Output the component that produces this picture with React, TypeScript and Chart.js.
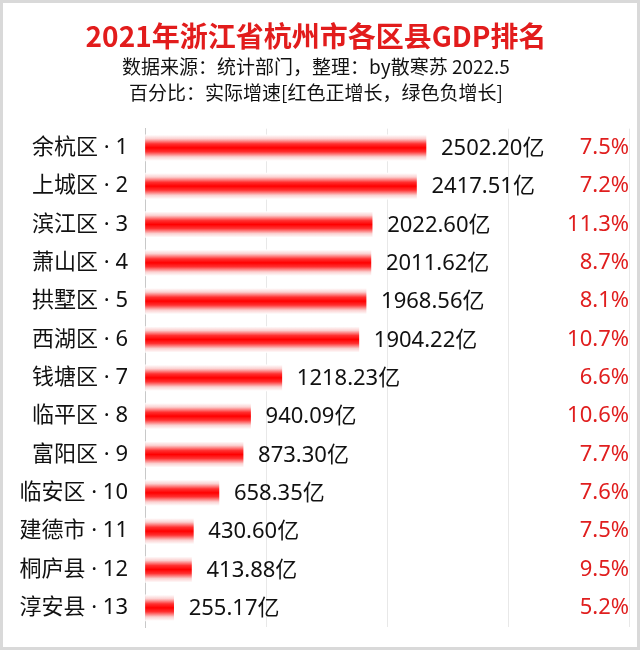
import React, { useEffect, useRef } from "react";
import { Chart, registerables } from "chart.js";

Chart.register(...registerables);

const districts = ["余杭区", "上城区", "滨江区", "萧山区", "拱墅区", "西湖区", "钱塘区", "临平区", "富阳区", "临安区", "建德市", "桐庐县", "淳安县"];
const gdp = [2502.2, 2417.51, 2022.6, 2011.62, 1968.56, 1904.22, 1218.23, 940.09, 873.3, 658.35, 430.6, 413.88, 255.17];
const growth = [7.5, 7.2, 11.3, 8.7, 8.1, 10.7, 6.6, 10.6, 7.7, 7.6, 7.5, 9.5, 5.2];

const titleText = "2021年浙江省杭州市各区县GDP排名";
const subtitleLines = ["数据来源：统计部门，整理：by散寒苏 2022.5", "百分比：实际增速[红色正增长，绿色负增长]"];

const FONT = '"Noto Sans CJK SC", "Microsoft YaHei", sans-serif';
const MIXED = '"Noto Sans", "Noto Sans CJK SC", sans-serif';

const yLabels = districts.map((d, i) => `${d} · ${i + 1}`);
const pctLabels = growth.map((g) => `${g.toFixed(1)}%`);

const valueLabelPlugin = {
  id: "valueLabels",
  afterDatasetsDraw(chart: any) {
    const ctx = chart.ctx;
    const meta = chart.getDatasetMeta(0);
    ctx.save();
    ctx.font = `22px ${MIXED}`;
    ctx.fillStyle = "#111";
    ctx.textAlign = "left";
    ctx.textBaseline = "middle";
    meta.data.forEach((bar: any, i: number) => {
      ctx.fillText(`${gdp[i].toFixed(2)}亿`, bar.x + 15, bar.y + 1);
    });
    ctx.restore();
  },
};

export default function App() {
  const ref = useRef<HTMLCanvasElement | null>(null);
  useEffect(() => {
    if (!ref.current) return;
    Chart.defaults.font.family = FONT;
    const chart = new Chart(ref.current, {
      type: "bar",
      data: {
        labels: yLabels,
        datasets: [
          {
            data: gdp,
            barThickness: 26,
            backgroundColor: (c: any) => {
              const ch = c.chart;
              const ys = ch.scales && ch.scales.y;
              if (!ys || c.dataIndex == null) return "#ff0000";
              const yc = ys.getPixelForValue(c.dataIndex);
              if (!Number.isFinite(yc)) return "#ff0000";
              const g = ch.ctx.createLinearGradient(0, yc - 13, 0, yc + 13);
              g.addColorStop(0, "rgba(255,255,255,1)");
              g.addColorStop(0.15, "#fbd0d0");
              g.addColorStop(0.35, "#ff3030");
              g.addColorStop(0.5, "#ff0000");
              g.addColorStop(0.65, "#ff3030");
              g.addColorStop(0.85, "#fbd0d0");
              g.addColorStop(1, "rgba(255,255,255,1)");
              return g;
            },
          },
        ],
      },
      options: {
        indexAxis: "y",
        animation: false,
        responsive: false,
        layout: { padding: { left: 0, right: 8, bottom: 20, top: 0 } },
        plugins: {
          legend: { display: false },
          tooltip: { enabled: false },
          title: {
            display: true,
            text: titleText,
            color: "#e21c1c",
            font: { size: 28, weight: "bold", family: FONT },
            padding: { top: 17, bottom: 0 },
          },
          subtitle: {
            display: true,
            text: subtitleLines,
            color: "#111",
            font: { size: 19, family: FONT, lineHeight: 1.37 },
            padding: { top: 0, bottom: 23 },
          },
        },
        scales: {
          x: {
            type: "linear",
            min: 0,
            max: 4310,
            position: "bottom",
            ticks: { display: false, stepSize: 1000, includeBounds: false },
            grid: { color: "#e8e8e8", drawTicks: false },
            border: { display: false },
          },
          y: {
            type: "category",
            position: "left",
            offset: true,
            grid: { display: false, drawTicks: false },
            border: { display: true, color: "#c8c8c8" },
            ticks: { color: "#111", font: { size: 22, family: MIXED }, padding: 17 },
            afterFit: (s: any) => {
              s.width = 142;
              s.paddingTop = 0;
              s.paddingBottom = 0;
            },
          },
          y2: {
            type: "category",
            labels: pctLabels,
            position: "right",
            offset: true,
            grid: { display: false, drawTicks: false },
            border: { display: false },
            ticks: {
              mirror: true,
              padding: 0,
              font: { size: 22, family: MIXED },
              color: (c: any) => (growth[c.index] >= 0 ? "#e01e1e" : "#1a9a2a"),
            },
            afterFit: (s: any) => {
              s.width = 0;
              s.paddingTop = 0;
              s.paddingBottom = 0;
            },
          },
        },
      } as any,
      plugins: [valueLabelPlugin],
    });
    return () => chart.destroy();
  }, []);

  return (
    <div
      style={{
        position: "absolute",
        left: 0,
        top: 0,
        width: 640,
        height: 650,
        boxSizing: "border-box",
        border: "3px solid #d9d9d9",
        background: "#fff",
      }}
    >
      <canvas ref={ref} width={634} height={644} style={{ display: "block" }} />
    </div>
  );
}
